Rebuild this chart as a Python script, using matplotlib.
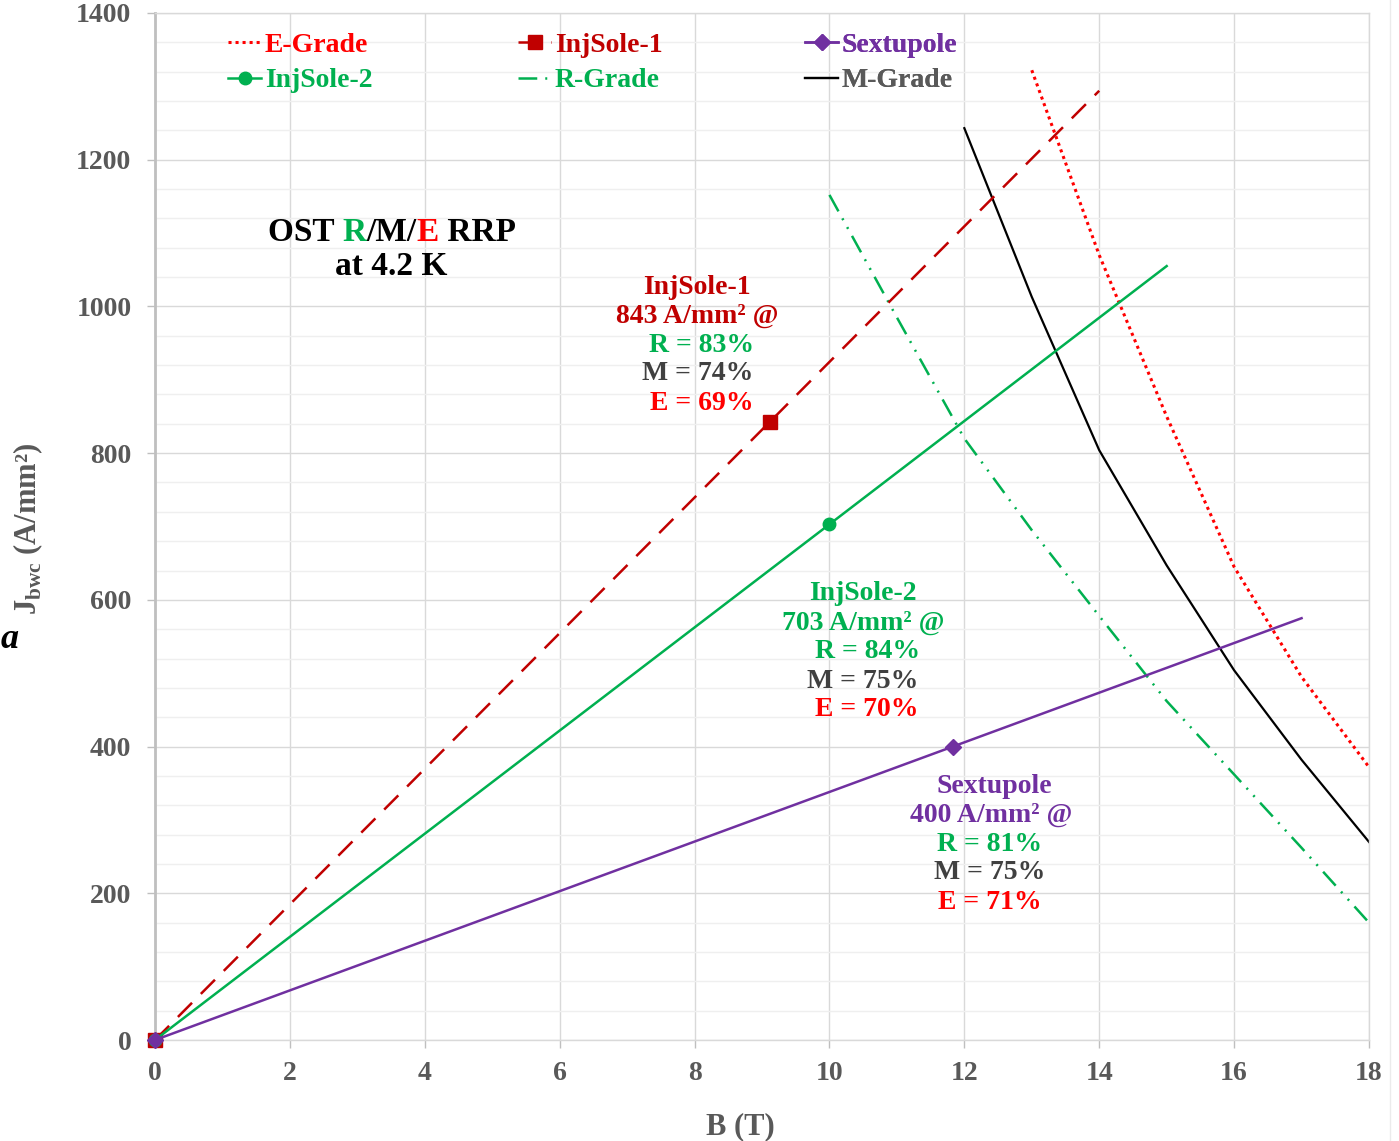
import matplotlib
matplotlib.use("Agg")
import matplotlib.pyplot as plt
from matplotlib.lines import Line2D
from matplotlib.ticker import MultipleLocator

plt.rcParams["font.family"] = ["Liberation Serif", "DejaVu Serif"]
plt.rcParams["font.weight"] = "bold"
plt.rcParams["mathtext.fontset"] = "custom"
plt.rcParams["mathtext.rm"] = "Liberation Serif:bold"
plt.rcParams["mathtext.bf"] = "Liberation Serif:bold"

# ---- data: B (T) vs Jbwc (A/mm^2) ----
# load lines: origin, operating point, end of line
inj1_B = [0.0, 9.12, 14.0]
inj1_J = [0.0, 843.0, 1294.0]
inj2_B = [0.0, 10.0, 15.0]
inj2_J = [0.0, 703.0, 1055.0]
sext_B = [0.0, 11.83, 17.0]
sext_J = [0.0, 400.0, 575.0]

# critical-current curves of the three wire grades
r_B = [10, 11, 12, 13, 14, 15, 16, 17, 18]
r_J = [1152, 985, 820, 695, 578, 462, 362, 262, 160]
m_B = [12, 13, 14, 15, 16, 17, 18]
m_J = [1243, 1013, 804, 647, 504, 382, 270]
e_B = [13, 14, 15, 16, 17, 18]
e_J = [1322, 1070, 850, 645, 495, 372]

x_ticks = [0, 2, 4, 6, 8, 10, 12, 14, 16, 18]
y_ticks = [0, 200, 400, 600, 800, 1000, 1200, 1400]

C_RED = "#FF0000"
C_DRED = "#C00000"
C_GREEN = "#00B050"
C_PURPLE = "#7030A0"
C_BLACK = "#000000"
C_GRAY = "#595959"
C_MGRAY = "#404040"

W, H = 1399, 1141
fig = plt.figure(figsize=(W / 100, H / 100), dpi=100)
ax = fig.add_axes([155 / W, 1 - 1040 / H, (1369 - 155) / W, (1040 - 13) / H])

ax.set_xlim(0, 18)
ax.set_ylim(0, 1400)
ax.set_xticks(x_ticks)
ax.set_yticks(y_ticks)
ax.yaxis.set_minor_locator(MultipleLocator(40))
ax.grid(True, which="major", color="#D9D9D9", lw=1.0)
ax.grid(True, which="minor", axis="y", color="#EFEFEF", lw=1.0)
ax.set_axisbelow(True)

for side in ("top", "right", "bottom"):
    ax.spines[side].set_color("#D9D9D9")
    ax.spines[side].set_linewidth(1.0)
ax.spines["left"].set_color("#BFBFBF")
ax.spines["left"].set_linewidth(2.0)

ax.tick_params(axis="both", which="major", length=6, width=1.0, color="#BFBFBF",
               labelsize=20, labelcolor=C_GRAY)
ax.tick_params(axis="x", pad=9)
ax.tick_params(axis="y", pad=11)
ax.tick_params(axis="y", which="minor", length=0)
for lab in ax.get_xticklabels() + ax.get_yticklabels():
    lab.set_fontweight("bold")

# critical curves
l_e, = ax.plot(e_B, e_J, color=C_RED, lw=2.2, ls=(0, (1, 1.3)), label="E-Grade")
l_r, = ax.plot(r_B, r_J, color=C_GREEN, lw=1.8, ls=(0, (7.5, 3.2, 0.8, 3.2, 0.8, 3.2)),
               label="R-Grade")
l_m, = ax.plot(m_B, m_J, color=C_BLACK, lw=1.6, label="M-Grade")

# load lines with markers at origin and operating point
l_i1, = ax.plot(inj1_B, inj1_J, color=C_DRED, lw=1.8, ls=(0, (8, 5)), marker="s",
                ms=10, markevery=[0, 1], label="InjSole-1", clip_on=False, zorder=3)
l_i2, = ax.plot(inj2_B, inj2_J, color=C_GREEN, lw=1.8, marker="o", ms=9,
                markevery=[0, 1], label="InjSole-2", clip_on=False, zorder=3.1)
l_sx, = ax.plot(sext_B, sext_J, color=C_PURPLE, lw=1.8, marker="D", ms=8.5,
                markevery=[0, 1], label="Sextupole", clip_on=False, zorder=3.2)

# legend: three two-row columns
cols = [(228, [l_e, l_i2], [C_RED, C_GREEN]),
        (518, [l_i1, l_r], [C_DRED, C_GREEN]),
        (805, [l_sx, l_m], [C_PURPLE, C_GRAY])]
for x0, hs, tcols in cols:
    leg = ax.legend(handles=hs, loc="center left",
                    bbox_to_anchor=(x0 / W, 1 - 63 / H), bbox_transform=fig.transFigure,
                    frameon=False, fontsize=20, handlelength=1.2, handletextpad=0.12,
                    labelspacing=0.35, borderpad=0, borderaxespad=0, numpoints=1)
    for t, c in zip(leg.get_texts(), tcols):
        t.set_color(c)
        t.set_fontweight("bold")
    ax.add_artist(leg)

# title block
t1 = ax.text(1.68, 1089, "OST ", fontsize=24, color=C_BLACK, ha="left", va="baseline")
prev = t1
for s, c in [("R", C_GREEN), ("/M/", C_BLACK), ("E", C_RED), (" RRP", C_BLACK)]:
    prev = ax.annotate(s, xy=(1, 0), xycoords=prev, fontsize=24, color=c,
                       ha="left", va="bottom")
ax.text(3.50, 1043, "at 4.2 K", fontsize=24, color=C_BLACK, ha="center", va="baseline")


def block(x_list, y_list, lines):
    for (s, c), x, y in zip(lines, x_list, y_list):
        ax.text(x, y, s, fontsize=20, color=c, ha="center", va="center")


block([8.04, 8.04, 8.10, 8.04, 8.11], [1026, 987, 947, 908, 868],
      [("InjSole-1", C_DRED), ("843 A/mm² @", C_DRED), ("R = 83%", C_GREEN),
       ("M = 74%", C_MGRAY), ("E = 69%", C_RED)])
block([10.50, 10.50, 10.56, 10.50, 10.56], [608, 568, 529, 489, 450],
      [("InjSole-2", C_GREEN), ("703 A/mm² @", C_GREEN), ("R = 84%", C_GREEN),
       ("M = 75%", C_MGRAY), ("E = 70%", C_RED)])
block([12.44, 12.40, 12.38, 12.38, 12.38], [346, 307, 267, 228, 188],
      [("Sextupole", C_PURPLE), ("400 A/mm² @", C_PURPLE), ("R = 81%", C_GREEN),
       ("M = 75%", C_MGRAY), ("E = 71%", C_RED)])

fig.text(740 / W, 1 - 1127 / H, "B (T)", fontsize=22, color=C_GRAY,
         ha="center", va="center")
fig.text(28 / W, 1 - 529 / H, r"J$_{\mathrm{bwc}}$ (A/mm²)", fontsize=22, color=C_GRAY,
         ha="center", va="center", rotation=90)

# edge of neighbouring panel
fig.text(1 / W, 1 - 640 / H, "a", fontsize=26, style="italic", color="black",
         ha="left", va="center")
fig.add_artist(Line2D([1390 / W, 1390 / W], [0, 1], transform=fig.transFigure,
                      color="#EBEBEB", lw=1.0))

fig.savefig("out.png", dpi=100, facecolor="white")
